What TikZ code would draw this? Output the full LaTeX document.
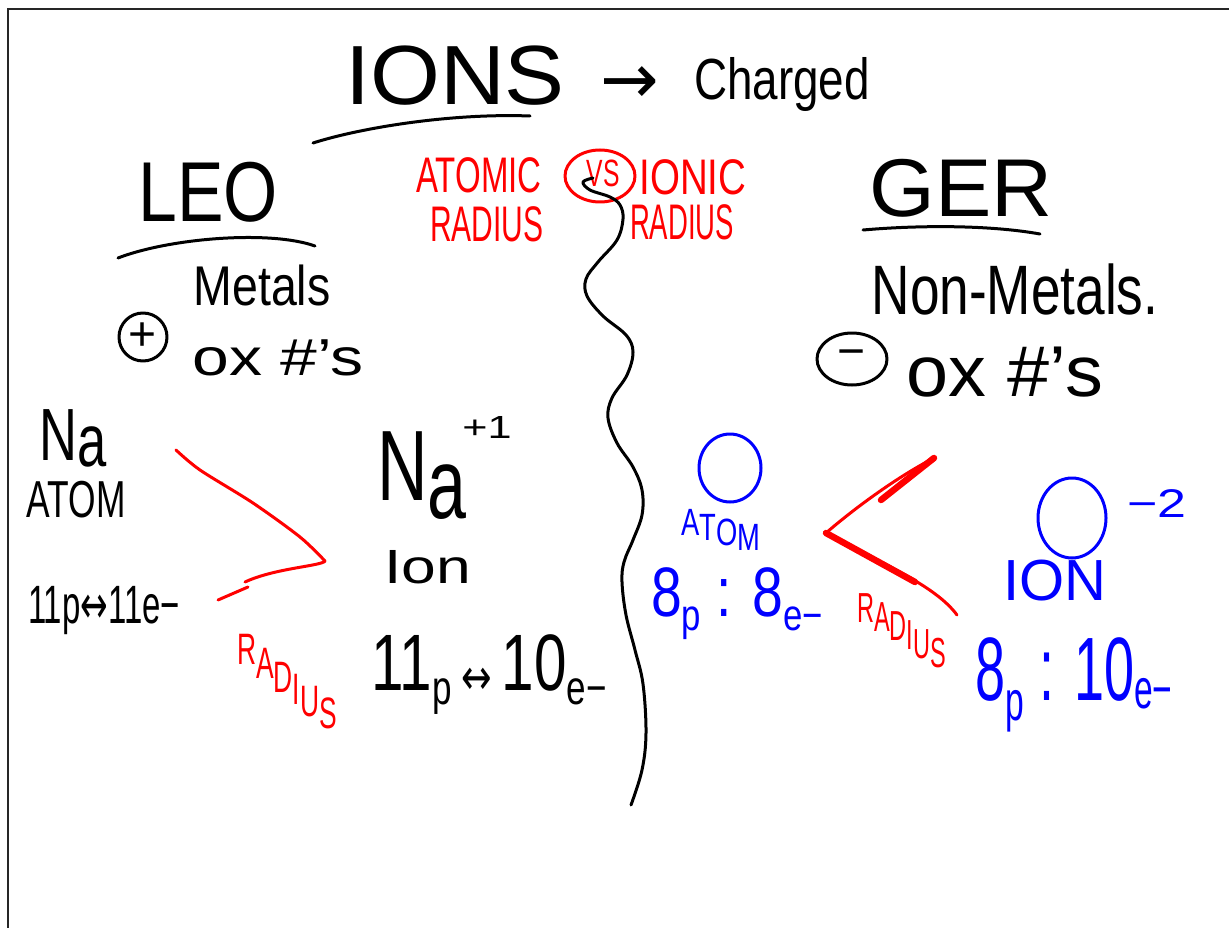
\documentclass[tikz,border=0pt]{standalone}
\usepackage{fontspec}
\setmainfont{Liberation Sans}
\newfontfamily\arrowfont{DejaVu Sans}
\usetikzlibrary{shapes.geometric}
\newcommand\myfs[1]{\fontsize{#1}{#1}\selectfont}
\newcommand\lowtxt[3]{\raisebox{-#2pt}{\fontsize{#1}{#1}\selectfont #3}}
\newcommand\dn[2]{\raisebox{-#1pt}{#2}}
\definecolor{inkred}{RGB}{255,0,0}
\definecolor{inkblue}{RGB}{0,0,255}
\definecolor{inkblack}{RGB}{0,0,0}
\tikzset{
  txt/.style={inner sep=0pt, anchor=base},
  stxt/.style={inner sep=0pt, anchor=base west},
  pen/.style={line width=3pt, line cap=round, line join=round},
  thickpen/.style={line width=6.5pt, line cap=round, line join=round},
  frameline/.style={line width=2.5pt, draw=black!85},
}
\begin{document}
\begin{tikzpicture}[x=1pt,y=-1pt]
\useasboundingbox (0,0) rectangle (1229,928);
\fill[white] (0,0) rectangle (1229,928);
% frame
\coordinate (fa) at (8,9);
\coordinate (fb) at (1229,9);
\coordinate (fc) at (8,928);
\draw[frameline] (fb) -- (fa) -- (fc);

% ---- title ----
\node[txt, font=\myfs{84}, xscale=1.07] (ions) at (455,105) {IONS};
\node[txt, font=\arrowfont\myfs{70}] (arr) at (630,104) {→};
\node[txt, font=\myfs{58}, xscale=0.79] (charged) at (782,100) {Charged};
\coordinate (u1a) at (313,143);
\coordinate (u1b) at (530,116);
\draw[pen] (u1a) .. controls (360,128) and (450,113) .. (u1b);

% ---- LEO side ----
\node[txt, font=\myfs{85}, xscale=0.82] (leo) at (208,222) {LEO};
\coordinate (u2a) at (118,258);
\coordinate (u2b) at (315,246);
\draw[pen] (u2a) .. controls (170,238) and (270,230) .. (u2b);
\node[txt, font=\myfs{56}, xscale=0.83] (metals) at (262,305) {Metals};
\node[circle, draw, pen, minimum size=48pt, inner sep=0pt, font=\myfs{48}] (plus) at (143,337) {+};
\node[txt, font=\myfs{52}, xscale=1.27] (oxl) at (278,375) {ox \#'s};

% ---- GER side ----
\node[txt, font=\myfs{82}, xscale=1.03] (ger) at (961,217) {GER};
\coordinate (u3a) at (863,230);
\coordinate (u3b) at (1040,234);
\draw[pen] (u3a) .. controls (920,225) and (990,225) .. (u3b);
\node[txt, font=\myfs{70}, xscale=0.76] (nonmetals) at (1015,314) {Non-Metals.};
\node[ellipse, draw, pen, minimum width=70pt, minimum height=52pt, inner sep=0pt, font=\myfs{48}] (minus) at (852,359) {−};
\node[txt, font=\myfs{72}, xscale=1.05] (oxr) at (1005,396) {ox \#'s};

% ---- red heading ----
\node[txt, font=\myfs{50}, xscale=0.66, text=inkred] (atomic) at (479,193) {ATOMIC};
\node[txt, font=\myfs{50}, xscale=0.6, text=inkred] (radtl) at (487,242) {RADIUS};
\node[ellipse, draw=inkred, pen, minimum width=70pt, minimum height=52pt, inner sep=0pt] (vsring) at (600,176) {};
\node[txt, font=\myfs{38}, xscale=0.65, text=inkred] (vs) at (603,187) {VS};
\node[txt, font=\myfs{50}, xscale=0.77, text=inkred] (ionic) at (693,195) {IONIC};
\node[txt, font=\myfs{50}, xscale=0.55, text=inkred] (radtr) at (682,240) {RADIUS};

% ---- wavy divider ----
\draw[pen, inkblack] plot[smooth, tension=0.6] coordinates {
 (593,178) (583,182) (590,190) (610,197) (620,205) (623,219) (617,240)
 (598,262) (586,279) (587,296) (603,316) (626,335) (633,352) (627,375)
 (612,398) (608,418) (617,443) (633,467) (642,490) (642,515) (633,540)
 (624,562) (622,582) (626,615) (635,650) (643,684) (646,733) (642,770) (631,805)};

% ---- Na atom (left) ----
\node[txt, font=\myfs{74}, xscale=0.71] (naatom) at (73,460) {N\raisebox{-6pt}{a}};
\node[txt, font=\myfs{52}, xscale=0.68] (atoml) at (76,517) {ATOM};
\node[txt, font=\myfs{54}, xscale=0.61] (pel) at (104,623) {11p{\arrowfont ↔}11e−};

% red V (left)
\coordinate (va) at (176,450);
\coordinate (vb) at (325,561);
\coordinate (vc) at (245,582);
\coordinate (vd) at (218,600);
\coordinate (ve) at (248,587);
\draw[pen, inkred] plot[smooth, tension=0.5] coordinates {(va) (200,470) (253,503) (300,537) (vb)};
\draw[pen, inkred] (vb) .. controls (322,566) and (275,568) .. (vc);
\draw[pen, inkred] (vd) -- (ve);
\node[stxt, font=\myfs{44}, xscale=0.6, text=inkred] (radl) at (237,664) {R\dn{14}{A}\dn{28}{D}\dn{40}{I}\dn{52}{U}\dn{64}{S}};

% ---- Na ion (middle) ----
\node[txt, font=\myfs{100}, xscale=0.7] (naion) at (422,500) {N\raisebox{-18pt}{a}};
\node[txt, font=\myfs{32}, xscale=1.35] (plusone) at (487,438) {+1};
\node[txt, font=\myfs{48}, xscale=1.3] (ionw) at (428,583) {Ion};
\node[txt, font=\myfs{80}, xscale=0.73] (pem) at (489,690) {11\lowtxt{48}{14}{p}\,\lowtxt{50}{4}{\arrowfont ↔}\,10\lowtxt{48}{14}{e−}};

% ---- O atom (right, blue) ----
\node[ellipse, draw=inkblue, pen, minimum width=62pt, minimum height=68pt, inner sep=0pt] (oatom) at (730,468) {};
\node[stxt, font=\myfs{38}, xscale=0.72, text=inkblue] (atomb) at (681,535) {A\dn{5}{T}\dn{10}{O}\dn{15}{M}};
\node[txt, font=\myfs{70}, xscale=0.79, text=inkblue] (peb) at (737,616) {8\lowtxt{44}{14}{p} : 8\lowtxt{44}{14}{e−}};

% red < (right)
\coordinate (ra) at (934,458);
\coordinate (rb) at (826,533);
\coordinate (rc) at (957,615);
\coordinate (rd) at (881,500);
\coordinate (re) at (915,582);
\draw[pen, inkred] (rb) .. controls (850,512) and (895,478) .. (ra);
\draw[thickpen, inkred] (rd) -- (ra);
\draw[pen, inkred] (rb) .. controls (880,563) and (935,585) .. (rc);
\draw[thickpen, inkred] (rb) -- (re);
\node[stxt, font=\myfs{42}, xscale=0.56, text=inkred] (radr) at (857,622) {R\dn{9}{A}\dn{18}{D}\dn{27}{I}\dn{36}{U}\dn{45}{S}};

% ---- O ion (right, blue) ----
\node[ellipse, draw=inkblue, pen, minimum width=68pt, minimum height=80pt, inner sep=0pt] (oion) at (1072,518) {};
\node[txt, font=\myfs{40}, xscale=1.3, text=inkblue] (mtwo) at (1157,517) {−2};
\node[txt, font=\myfs{58}, text=inkblue] (ionb) at (1055,600) {ION};
\node[txt, font=\myfs{90}, xscale=0.6, text=inkblue] (per) at (1074,700) {8\lowtxt{56}{20}{p} : 10\lowtxt{56}{8}{e−}};
\end{tikzpicture}
\end{document}
